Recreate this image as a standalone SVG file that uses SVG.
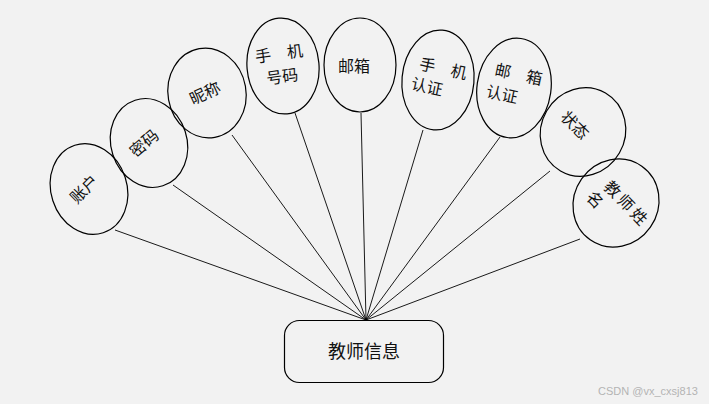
<svg xmlns="http://www.w3.org/2000/svg" width="709" height="404" viewBox="0 0 709 404">
<style>
.e{fill:none;stroke:#000;stroke-width:1.2}
.t{font-family:"Noto Sans CJK SC","Liberation Serif",serif;font-size:16px;fill:#111}
.c line{stroke:#000;stroke-width:0.9}
</style>
<rect width="709" height="404" fill="#f2f2f2"/>
<g class="c" id="connectors">
<line x1="115" y1="230" x2="366" y2="320"/>
<line x1="173" y1="185" x2="366" y2="320"/>
<line x1="232" y1="135" x2="366" y2="320"/>
<line x1="295" y1="113" x2="366" y2="320"/>
<line x1="361" y1="113" x2="366" y2="320"/>
<line x1="423" y1="130" x2="366" y2="320"/>
<line x1="500" y1="137" x2="366" y2="320"/>
<line x1="550" y1="171" x2="366" y2="320"/>
<line x1="580" y1="239" x2="366" y2="320"/>
</g>
<g id="zhanghu"><ellipse class="e" cx="89" cy="189" rx="38" ry="46" transform="rotate(-18 89 189)"/><text class="t" x="84" y="195" text-anchor="middle" transform="rotate(-45 84 189)">账户</text></g>
<g id="mima"><ellipse class="e" cx="149" cy="143" rx="38" ry="45" transform="rotate(-18 149 143)"/><text class="t" x="144" y="149" text-anchor="middle" transform="rotate(-40 144 143)">密码</text></g>
<g id="nicheng"><ellipse class="e" cx="207" cy="93" rx="39" ry="45" transform="rotate(-10 207 93)"/><text class="t" x="205" y="99" text-anchor="middle" transform="rotate(-25 205 93)">昵称</text></g>
<g id="shoujihao"><ellipse class="e" cx="283" cy="66" rx="36" ry="48" transform="rotate(-5 283 66)"/><g transform="rotate(-8 283 60)"><text class="t" x="280" y="59" text-anchor="middle">手　机</text><text class="t" x="280" y="82" text-anchor="middle">号码</text></g></g>
<g id="youxiang"><ellipse class="e" cx="360" cy="65" rx="36" ry="47"/><text class="t" x="354" y="72" text-anchor="middle">邮箱</text></g>
<g id="shoujirenzheng"><ellipse class="e" cx="438" cy="80" rx="36" ry="50" transform="rotate(5 438 80)"/><g transform="rotate(12 435 78)"><text class="t" x="441" y="73" text-anchor="middle">手　机</text><text class="t" x="429" y="94" text-anchor="middle">认证</text></g></g>
<g id="youxiangrenzheng"><ellipse class="e" cx="514" cy="88" rx="37" ry="50" transform="rotate(8 514 88)"/><g transform="rotate(12 512 86)"><text class="t" x="516" y="79" text-anchor="middle">邮　箱</text><text class="t" x="504" y="102" text-anchor="middle">认证</text></g></g>
<g id="zhuangtai"><ellipse class="e" cx="583" cy="132" rx="42" ry="45" transform="rotate(30 583 132)"/><text class="t" x="575" y="131" text-anchor="middle" transform="rotate(45 575 125)">状态</text></g>
<g id="jiaoshixingming"><ellipse class="e" cx="616" cy="203" rx="42" ry="45" transform="rotate(35 616 203)"/><g transform="rotate(46 620 198)"><text class="t" x="629" y="203" text-anchor="middle" letter-spacing="3">教师姓</text><text class="t" x="604" y="223" text-anchor="middle">名</text></g></g>
<g id="jiaoshixinxi"><rect x="284.5" y="320.5" width="159" height="62" rx="15" fill="none" stroke="#000" stroke-width="1.2"/><text x="364" y="358" text-anchor="middle" style="font-family:'Noto Sans CJK SC',sans-serif;font-size:18px;fill:#111">教师信息</text></g>
<text x="648" y="395" text-anchor="middle" style="font-family:'Liberation Sans',sans-serif;font-size:11px;fill:#b4b4b4">CSDN @vx_cxsj813</text>
</svg>
